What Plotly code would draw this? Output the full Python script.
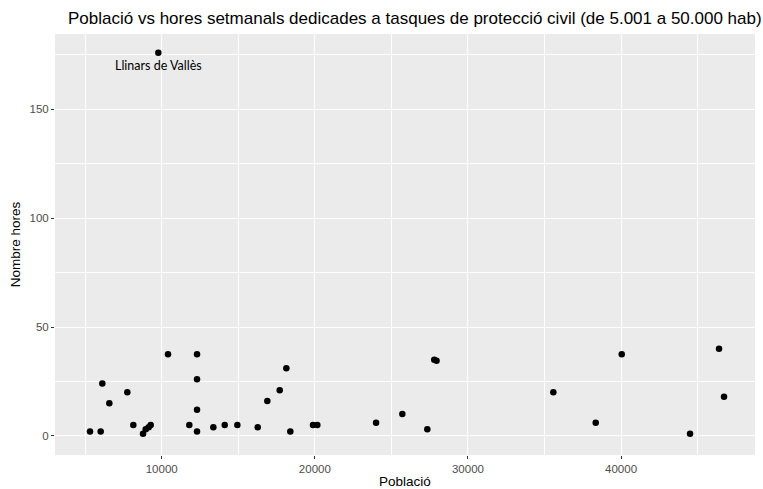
import plotly.graph_objects as go

poblacio = [5317, 6015, 6120, 6578, 7753, 8145, 8779, 8955, 9150, 9281,
            10411, 11803, 12306, 12306, 12306, 12306, 13371, 14115, 14940,
            16270, 16897, 17706, 18139, 18400, 19882, 20163, 24000, 25716,
            27348, 27800, 27950, 35578, 38346, 40046, 44507, 46401, 46727,
            9778]
hores = [2, 2, 24, 15, 20, 5, 1, 3, 4, 5,
         37.5, 5, 37.5, 26, 12, 2, 4, 5, 5,
         4, 16, 21, 31, 2, 5, 5, 6, 10,
         3, 35, 34.5, 20, 6, 37.5, 1, 40, 18,
         176]
label_municipi = "Llinars de Vallès"
label_x = 9778
label_y = 176

title = "Població vs hores setmanals dedicades a tasques de protecció civil (de 5.001 a 50.000 hab)"
x_title = "Població"
y_title = "Nombre hores"

fig = go.Figure()
fig.add_trace(go.Scatter(
    x=poblacio, y=hores, mode="markers",
    marker=dict(color="black", size=6.5),
    hoverinfo="x+y", showlegend=False,
))

fig.add_annotation(
    x=label_x, y=label_y - 5.8, xref="x", yref="y",
    text=label_municipi, showarrow=False,
    font=dict(family="Lato", size=12.5, color="black"),
    xanchor="center", yanchor="middle",
)

axis_common = dict(
    showgrid=True, gridcolor="white", gridwidth=1.2,
    zeroline=False, showline=False, automargin=False,
    ticks="outside", ticklen=3, tickcolor="#333333", tickwidth=1,
    tickformat="d",
    tickfont=dict(family="Liberation Sans", size=11.5, color="#4D4D4D"),
)

fig.update_layout(
    width=763, height=489,
    margin=dict(l=55, r=8, t=34, b=34),
    paper_bgcolor="white", plot_bgcolor="#EBEBEB",
    title=dict(text=title, x=68 / 763, xanchor="left", xref="container",
               y=1 - 18 / 489, yanchor="middle", yref="container",
               font=dict(family="Liberation Sans", size=17, color="black")),
    xaxis=dict(range=[3030, 48750], dtick=10000, tick0=0,
               title=dict(text=x_title, standoff=3,
                          font=dict(family="Liberation Sans", size=13.5, color="black")),
               minor=dict(dtick=5000, tick0=0, showgrid=True, gridcolor="white", gridwidth=0.6, ticks=""),
               **axis_common),
    yaxis=dict(range=[-8.8, 184.6], dtick=50, tick0=0,
               title=dict(text=y_title, standoff=5,
                          font=dict(family="Liberation Sans", size=13.5, color="black")),
               minor=dict(dtick=25, tick0=0, showgrid=True, gridcolor="white", gridwidth=0.6, ticks=""),
               **axis_common),
)

fig.write_html(
    "out.html",
    config={"displayModeBar": False},
    post_script="document.body.style.margin='0';document.body.style.overflow='hidden';",
)
